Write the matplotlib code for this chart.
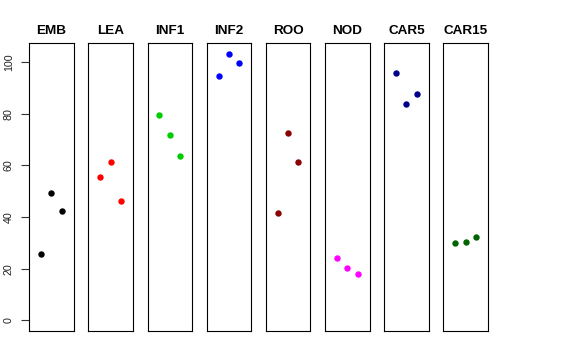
import matplotlib
matplotlib.use("Agg")
import matplotlib.pyplot as plt

plt.rcParams["font.family"] = ["Liberation Sans", "DejaVu Sans"]

# tissue panels, three replicates each
tissues = ["EMB", "LEA", "INF1", "INF2", "ROO", "NOD", "CAR5", "CAR15"]
colors = ["black", "red", "#00CD00", "blue", "#8B0000", "magenta", "#00008B", "#006400"]
reps = [1, 2, 3]
values = [
    [25.8, 49.3, 42.5],
    [55.5, 61.2, 46.1],
    [79.4, 71.8, 63.7],
    [94.4, 103.1, 99.5],
    [41.4, 72.4, 61.1],
    [24.2, 20.1, 18.0],
    [95.9, 83.8, 87.5],
    [30.0, 30.2, 32.1],
]
yticks = [0, 20, 40, 60, 80, 100]

W, H = 576, 360
fig = plt.figure(figsize=(W / 100, H / 100), dpi=100)

ymax = max(max(v) for v in values)
ypad = 0.04 * ymax
left0, pitch, pw = 29.2, 59.17, 44.5
top, bottom = 43.3, 331.0

for i, (name, col, vals) in enumerate(zip(tissues, colors, values)):
    x0 = left0 + i * pitch
    ax = fig.add_axes([x0 / W, 1 - bottom / H, pw / W, (bottom - top) / H])
    ax.plot(reps, vals, "o", color=col, markersize=4.6, markeredgewidth=0)
    ax.set_xlim(0 - 0.16, 4 + 0.16)
    ax.set_ylim(-ypad, ymax + ypad)
    ax.set_xticks([])
    for s in ax.spines.values():
        s.set_linewidth(0.8)
        s.set_color("black")
    if i == 0:
        ax.set_yticks(yticks)
        ax.set_yticklabels([str(t) for t in yticks], rotation=90, va="center",
                           fontsize=7.7, color="#222222")
        ax.tick_params(axis="y", length=6, width=0.8, pad=5, color="#333333")
    else:
        ax.set_yticks([])
    ax.set_title(name, fontsize=9.7, fontweight="bold", pad=7)

fig.savefig("out.png", dpi=100)
